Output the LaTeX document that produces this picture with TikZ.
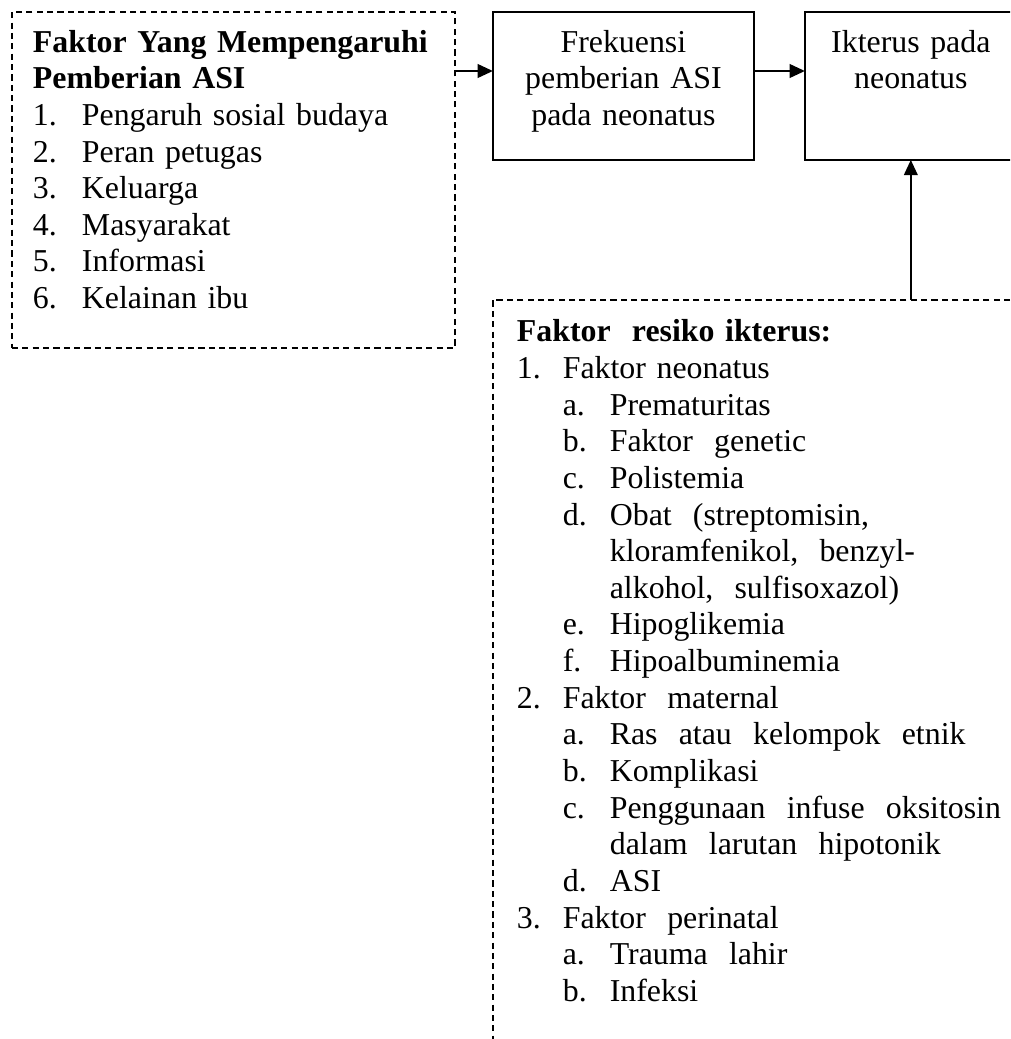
\documentclass[tikz,border=0pt]{standalone}
\usepackage{fontspec}
\setmainfont{Liberation Serif}
\usetikzlibrary{arrows.meta,positioning}

\newcommand{\itemno}[1]{\makebox[17.3pt][l]{#1}}
\newcommand{\subno}[1]{\hspace*{17.3pt}\makebox[17.7pt][l]{#1}}
\newcommand{\subgap}{\hspace*{35pt}}
\newcommand{\listno}[1]{\makebox[18.45pt][l]{#1}}

\begin{document}
\begin{tikzpicture}[
  x=0.3766pt, y=-0.3766pt, >={Triangle[length=5.7pt,width=5.1pt]},
  every node/.style={font=\fontsize{12}{13.8}\selectfont},
  box/.style={draw, line width=0.75pt, inner sep=0pt, outer sep=0pt,
              align=center, text height=15.1pt, text depth=40.6pt},
  dashbox/.style={draw, line width=0.5pt, dash pattern=on 2.3pt off 1.6pt,
                  inner ysep=0pt, outer sep=0pt, align=left},
  arr/.style={->, line width=0.75pt}
]
  \useasboundingbox (0,0) rectangle (1010,1039);
  \clip (0,0) rectangle (1010,1039);

  \node[dashbox, anchor=north west, inner xsep=7.9pt, text width=151pt,
        text height=15.1pt, text depth=111.4pt] (faktor) at (12,12)
    {\textbf{Faktor Yang Mempengaruhi}\\
     \textbf{Pemberian ASI}\\
     \listno{1.}Pengaruh sosial budaya\\
     \listno{2.}Peran petugas\\
     \listno{3.}Keluarga\\
     \listno{4.}Masyarakat\\
     \listno{5.}Informasi\\
     \listno{6.}Kelainan ibu};
  \node[box, text width=98.3pt, right=14.3pt of faktor.north east,
        anchor=north west] (frekuensi)
    {Frekuensi\\pemberian ASI\\pada neonatus};
  \node[box, text width=79.8pt, right=19.2pt of frekuensi.north east,
        anchor=north west] (ikterus) {Ikterus pada\\neonatus};
  \node[dashbox, inner xsep=9.04pt, text width=184pt, text height=15.8pt,
        text depth=277.9pt, below=52.7pt of frekuensi.south west,
        anchor=north west] (resiko)
    {\textbf{Faktor\ \ resiko ikterus:}\\
     \itemno{1.}Faktor neonatus\\
     \subno{a.}Prematuritas\\
     \subno{b.}Faktor\ \ genetic\\
     \subno{c.}Polistemia\\
     \subno{d.}Obat\ \ (streptomisin,\\
     \subgap kloramfenikol,\ \ benzyl-\\
     \subgap alkohol,\ \ sulfisoxazol)\\
     \subno{e.}Hipoglikemia\\
     \subno{f.}Hipoalbuminemia\\
     \itemno{2.}Faktor\ \ maternal\\
     \subno{a.}Ras\ \ atau\ \ kelompok\ \ etnik\\
     \subno{b.}Komplikasi\\
     \subno{c.}Penggunaan\ \ infuse\ \ oksitosin\\
     \subgap dalam\ \ larutan\ \ hipotonik\\
     \subno{d.}ASI\\
     \itemno{3.}Faktor\ \ perinatal\\
     \subno{a.}Trauma\ \ lahir\\
     \subno{b.}Infeksi};

  \coordinate (row) at (0,71);
  \draw[arr] (faktor.east |- row) -- (frekuensi.west |- row);
  \draw[arr] (frekuensi.east |- row) -- (ikterus.west |- row);
  \draw[arr] (resiko.north -| ikterus.south) -- (ikterus.south);
\end{tikzpicture}
\end{document}
